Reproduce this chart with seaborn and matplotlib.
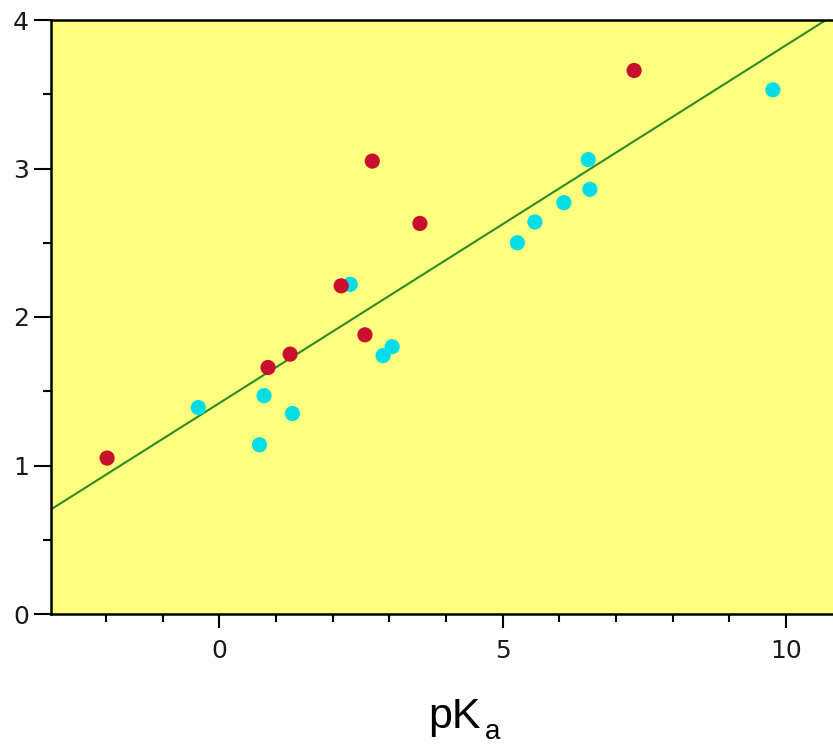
import matplotlib
matplotlib.use("Agg")
import matplotlib.pyplot as plt
import seaborn as sns
import pandas as pd
import numpy as np
from matplotlib.ticker import MultipleLocator

# Data
red_x = [-1.98, 0.86, 1.25, 2.15, 2.70, 2.57, 3.54, 7.32]
red_y = [1.05, 1.66, 1.75, 2.21, 3.05, 1.88, 2.63, 3.66]
cyan_x = [-0.37, 0.71, 0.79, 1.29, 2.31, 2.89, 3.05, 5.26, 5.57, 6.08, 6.51, 6.54, 9.77]
cyan_y = [1.39, 1.14, 1.47, 1.35, 2.22, 1.74, 1.80, 2.50, 2.64, 2.77, 3.06, 2.86, 3.53]
fit_intercept = 1.42
fit_slope = 0.241
x_ticks = [0, 5, 10]
y_ticks = [0, 1, 2, 3, 4]

df = pd.DataFrame({
    "x": cyan_x + red_x,
    "y": cyan_y + red_y,
    "group": ["cyan"] * len(cyan_x) + ["red"] * len(red_x),
})

sns.set_style("white")
plt.rcParams["font.family"] = ["DejaVu Sans"]

fig = plt.figure(figsize=(8.33, 7.46), dpi=100)
ax = fig.add_axes([51 / 833, 132 / 746, 1 - 51 / 833, (614 - 20) / 746])
ax.set_facecolor("#FFFF80")

xmin, xmax = -2.97, 10.83
lx = np.array([xmin, xmax])
ax.plot(lx, fit_intercept + fit_slope * lx, color="#2E8B22", lw=1.5, zorder=2)

sns.scatterplot(data=df, x="x", y="y", hue="group",
                palette={"red": "#C8102E", "cyan": "#00DDE6"},
                s=120, edgecolor="none", legend=False, ax=ax, zorder=3)

ax.set_xlim(xmin, xmax)
ax.set_ylim(0, 4)
ax.set_xticks(x_ticks)
ax.set_yticks(y_ticks)
ax.xaxis.set_minor_locator(MultipleLocator(1))
ax.yaxis.set_minor_locator(MultipleLocator(0.5))
ax.tick_params(which="major", direction="out", length=10, width=1.5, colors="black",
               labelsize=18, labelcolor="#1a1a1a", pad=4)
ax.tick_params(which="minor", direction="out", length=6, width=1.5, colors="black")
ax.tick_params(axis="y", which="major", length=12, pad=4)
ax.tick_params(axis="x", which="major", pad=8)
ax.xaxis.set_ticks_position("bottom")
ax.yaxis.set_ticks_position("left")

for side in ["left", "bottom", "top"]:
    ax.spines[side].set_visible(True)
    ax.spines[side].set_color("black")
    ax.spines[side].set_linewidth(1.8)
ax.spines["right"].set_visible(False)

ax.set_xlabel("")
ax.set_ylabel("")
fig.text(428 / 833, 1 - 728 / 746, "pK", ha="left", va="baseline",
         fontsize=31, family="Liberation Sans", color="black")
fig.text(485 / 833, 1 - 739 / 746, "a", ha="left", va="baseline",
         fontsize=20, family="Liberation Sans", color="black")

fig.savefig("out.png", dpi=100)
